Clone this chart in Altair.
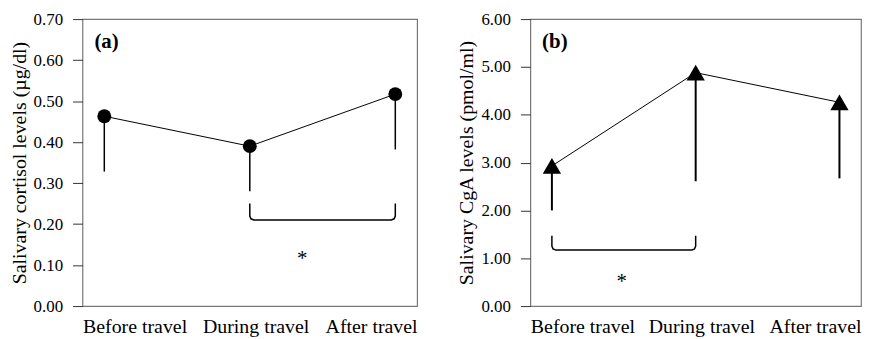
import altair as alt
import pandas as pd

# ---- data ----
cats = ["Before travel", "During travel", "After travel"]
positions = [0, 1, 2]

cortisol_mean = [0.463, 0.390, 0.517]
cortisol_low = [0.328, 0.280, 0.382]

cga_mean = [2.93, 4.88, 4.26]
cga_low = [2.00, 2.61, 2.67]

cortisol_ticks = [0.0, 0.1, 0.2, 0.3, 0.4, 0.5, 0.6, 0.7]
cga_ticks = [0, 1, 2, 3, 4, 5, 6]

# significance brackets: [x start, x end], top, bottom
cortisol_bracket = ([1, 2], 0.25, 0.21)
cga_bracket = ([0, 1], 1.47, 1.17)
cortisol_star = (1.36, 0.115)
cga_star = (0.485, 0.50)

x_domain = [-0.15, 2.15]
label_pos = [-0.15, 1.04, 2.15]

FONT = "Liberation Serif"
H = 289


def bracket_df(xs, top, bottom, W, ymax):
    # rounded corners (~4px)
    ux = 4 / (W / (x_domain[1] - x_domain[0]))
    uy = 4 / (H / ymax)
    x0, x1 = xs
    c = 0.2929  # 1 - cos(45)
    pts = [
        (x0, top),
        (x0, bottom + uy),
        (x0 + ux * c, bottom + uy * c),
        (x0 + ux, bottom),
        (x1 - ux, bottom),
        (x1 - ux * c, bottom + uy * c),
        (x1, bottom + uy),
        (x1, top),
    ]
    return pd.DataFrame({"pos": [p[0] for p in pts], "mean": [p[1] for p in pts],
                         "i": list(range(len(pts)))})


def panel(means, lows, ymax, ticks, ytitle, shape, size, rule_w, bracket, star, tag, W):
    df = pd.DataFrame({"pos": positions, "mean": means, "low": lows, "cat": cats})
    label_expr = (f"datum.value < -0.1 ? '{cats[0]}' : "
                  f"(datum.value < 2.1 ? '{cats[1]}' : '{cats[2]}')")
    x = alt.X("pos:Q",
              scale=alt.Scale(domain=x_domain, nice=False, zero=False),
              axis=alt.Axis(values=label_pos, labelExpr=label_expr, ticks=False,
                            domain=False, grid=False, labelFlush=True,
                            labelOverlap=False, labelFontSize=20, labelPadding=11),
              title=None)
    y = alt.Y("mean:Q",
              scale=alt.Scale(domain=[0, ymax], nice=False, zero=True),
              axis=alt.Axis(values=ticks, format=".2f", grid=False, domain=False,
                            tickSize=10, tickColor="#333", labelPadding=10,
                            labelFontSize=17, titleFontSize=20, titlePadding=4),
              title=ytitle)

    line = alt.Chart(df).mark_line(color="black", strokeWidth=1).encode(x=x, y=y)
    rule = alt.Chart(df).mark_rule(color="black", strokeWidth=rule_w).encode(
        x=x, y=y, y2="low:Q")
    pts = alt.Chart(df).mark_point(shape=shape, filled=True, size=size,
                                   color="black", opacity=1).encode(x=x, y=y)
    bdf = bracket_df(bracket[0], bracket[1], bracket[2], W, ymax)
    br = alt.Chart(bdf).mark_line(color="black", strokeWidth=1.5).encode(
        x=x, y=y, order="i:Q")
    sdf = pd.DataFrame({"pos": [star[0]], "mean": [star[1]]})
    st = alt.Chart(sdf).mark_text(text="*", font=FONT, fontSize=21,
                                  baseline="middle", color="black").encode(x=x, y=y)
    tdf = pd.DataFrame({"pos": [-0.068], "mean": [ymax * (1 - 24 / 297)]})
    tg = alt.Chart(tdf).mark_text(text=tag, font=FONT, fontSize=21, fontWeight="bold",
                                  align="left", baseline="middle",
                                  color="black").encode(x=x, y=y)
    return alt.layer(line, rule, br, pts, st, tg).properties(width=W, height=H)


a = panel(cortisol_mean, cortisol_low, 0.7, cortisol_ticks,
          "Salivary cortisol levels (µg/dl)", "circle", 195, 1.5,
          cortisol_bracket, cortisol_star, "(a)", 337)
b = panel(cga_mean, cga_low, 6, cga_ticks,
          "Salivary CgA levels (pmol/ml)", "triangle-up", 340, 2,
          cga_bracket, cga_star, "(b)", 333)

chart = alt.hconcat(a, b, spacing=38).properties(padding=0).configure_view(
    stroke="#777", strokeWidth=1.2
).configure_axis(
    labelFont=FONT, titleFont=FONT, labelColor="black", titleColor="black",
    titleFontWeight="normal"
)

chart.save("out.html", embed_options={"renderer": "svg", "actions": False})
